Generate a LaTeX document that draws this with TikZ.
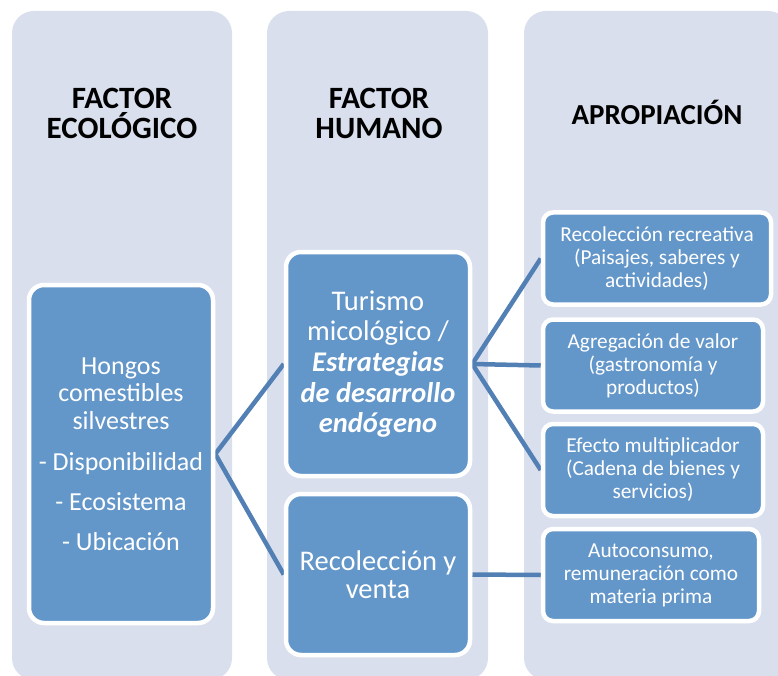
\documentclass[tikz,border=0pt]{standalone}
\usepackage{fontspec}
\setmainfont{Carlito}
\definecolor{colbg}{RGB}{217,223,237}
\definecolor{boxblue}{RGB}{99,150,201}
\definecolor{linkblue}{RGB}{82,128,180}
\pgfdeclarelayer{back}
\pgfdeclarelayer{mid}
\pgfsetlayers{back,mid,main}
\newcommand\bfitx[1]{{\bfseries\itshape #1}}
\begin{document}
\begin{tikzpicture}[x=1pt,y=-1pt,
  column/.style={fill=colbg, rounded corners=22pt},
  title/.style={font=\fontsize{31}{30}\selectfont\bfseries, text=black, align=center},
  bigbox/.style={draw=white, line width=4.5pt, fill=boxblue, rounded corners=15pt,
    text=white, align=center, inner sep=2pt, font=\fontsize{28.5}{30.7}\selectfont},
  smallbox/.style={draw=white, line width=4.5pt, fill=boxblue, rounded corners=10pt,
    text=white, align=center, inner sep=2pt, minimum height=92pt, font=\fontsize{21.3}{23}\selectfont},
  link/.style={draw=linkblue, line width=4.5pt}]
\useasboundingbox (0,0) rectangle (778,676);
\begin{pgfonlayer}{back}
  \fill[column] (12,11) rectangle (232,680);
  \fill[column] (267,11) rectangle (488,680);
  \fill[column] (524,11) rectangle (790,680);
\end{pgfonlayer}
\node[title] (t1) at (122,113) {FACTOR\\ECOLÓGICO};
\node[title] (t2) at (379,113) {FACTOR\\HUMANO};
\node[title, font=\fontsize{29}{30}\selectfont\bfseries] (t3) at (657,112) {APROPIACIÓN};

\node[bigbox, minimum width=184pt, minimum height=338pt, font=\fontsize{26}{27.5}\selectfont] (hongos) at (121,454)
  {Hongos\\comestibles\\silvestres\\[13.5pt]- Disponibilidad\\[12.5pt]- Ecosistema\\[12.5pt]- Ubicación};
\node[bigbox, minimum width=184pt, minimum height=224pt] (turismo) at (378,364)
  {Turismo\\micológico /\\\bfitx{Estrategias}\\\bfitx{de desarrollo}\\\bfitx{endógeno}};
\node[bigbox, minimum width=184pt, minimum height=161pt, font=\fontsize{28.5}{28}\selectfont] (venta) at (378,574.5)
  {Recolección y\\venta};

\node[smallbox, minimum width=228pt] (recre) at (657,258.5)
  {Recolección recreativa\\(Paisajes, saberes y\\actividades)};
\node[smallbox, minimum width=220pt] (valor) at (653,365.5)
  {Agregación de valor\\(gastronomía y\\productos)};
\node[smallbox, minimum width=220pt] (multi) at (653,470)
  {Efecto multiplicador\\(Cadena de bienes y\\servicios)};
\node[smallbox, minimum width=216pt] (auto) at (651,575)
  {Autoconsumo,\\remuneración como\\materia prima};

\begin{pgfonlayer}{mid}
  \draw[link] (hongos.east) -- (turismo.west);
  \draw[link] (hongos.east) -- (venta.west);
  \draw[link] (turismo.east) -- (recre.west);
  \draw[link] (turismo.east) -- (valor.west);
  \draw[link] (turismo.east) -- (multi.west);
  \draw[link] (venta.east) -- (auto.west);
\end{pgfonlayer}
\end{tikzpicture}
\end{document}
